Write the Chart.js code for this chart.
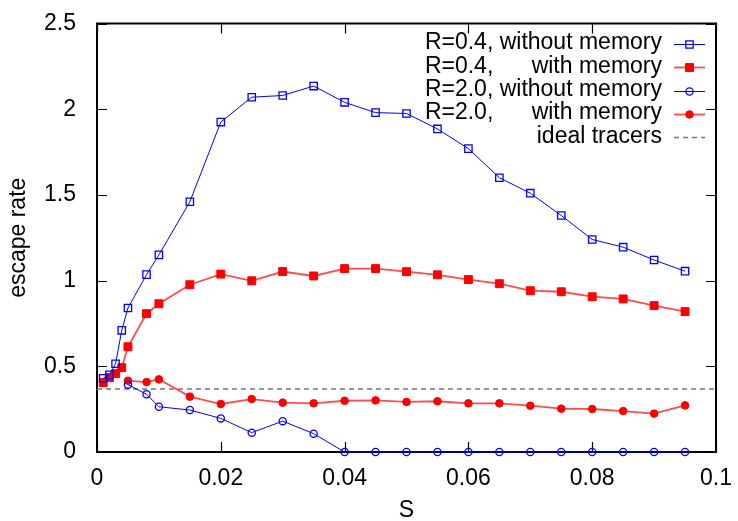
<!DOCTYPE html>
<html><head><meta charset="utf-8">
<script src="https://cdn.jsdelivr.net/npm/chart.js@4"></script>
<style>html,body{margin:0;padding:0;background:#fff}#wrap{width:738px;height:521px;position:relative}</style>
</head><body><div id="wrap"><canvas id="c"></canvas></div>
<script>
const S = [0.001,0.002,0.003,0.004,0.005,0.008,0.01,0.015,0.02,0.025,0.03,0.035,0.04,0.045,0.05,0.055,0.06,0.065,0.07,0.075,0.08,0.085,0.09,0.095];
const r04NoMem = [0.43,0.45,0.515,0.71,0.84,1.035,1.15,1.46,1.925,2.07,2.08,2.135,2.04,1.98,1.975,1.885,1.77,1.6,1.51,1.38,1.24,1.195,1.12,1.055];
const r04Mem = [0.405,0.434,0.457,0.492,0.614,0.807,0.865,0.976,1.038,0.999,1.053,1.027,1.07,1.07,1.052,1.034,1.006,0.982,0.941,0.935,0.906,0.893,0.854,0.819];
const r20NoMem = [null,null,null,null,0.393,0.337,0.264,0.245,0.196,0.113,0.18,0.107,0,0,0,0,0,0,0,0,0,0,0,0];
const r20Mem = [null,null,null,null,0.416,0.408,0.424,0.323,0.28,0.309,0.288,0.284,0.299,0.301,0.292,0.296,0.284,0.284,0.27,0.253,0.251,0.239,0.224,0.272];
const idealRate = 0.3679;
const idealS = [0, 0.1];
const xTickLabels = ['0','0.02','0.04','0.06','0.08','0.1'];
const yTickLabels = ['0','0.5','1','1.5','2','2.5'];
const seriesLabels = ['R=0.4, without memory','R=0.4,      with memory','R=2.0, without memory','R=2.0,      with memory','ideal tracers'];
const xTitle = 'S';
const yTitle = 'escape rate';

const FONT = "'Liberation Sans', Arial, Helvetica, sans-serif";
const BLUE = '#0000ff', RED = '#ff0000', REDLINE = '#ff4d4d';

function pts(vals){ return S.map((s,i)=>({x:s,y:vals[i]})).filter(p=>p.y!==null); }

const frameTicks = {
  id:'frameTicks',
  beforeDatasetsDraw(chart){
    const {ctx, chartArea:a, scales:{x,y}} = chart;
    ctx.save();
    ctx.strokeStyle = '#000';
    ctx.lineWidth = 1.2;
    ctx.beginPath();
    const L = 10;
    x.ticks.forEach(t=>{
      const px = Math.round(x.getPixelForValue(t.value))+0.5;
      ctx.moveTo(px,a.bottom); ctx.lineTo(px,a.bottom-L);
      ctx.moveTo(px,a.top); ctx.lineTo(px,a.top+L);
    });
    y.ticks.forEach(t=>{
      const py = Math.round(y.getPixelForValue(t.value))+0.5;
      ctx.moveTo(a.left,py); ctx.lineTo(a.left+L,py);
      ctx.moveTo(a.right,py); ctx.lineTo(a.right-L,py);
    });
    ctx.stroke();
    ctx.lineWidth = 2;
    ctx.strokeRect(a.left,a.top,a.right-a.left,a.bottom-a.top);
    ctx.restore();
  }
};

const keyPlugin = {
  id:'keyPlugin',
  afterDatasetsDraw(chart){
    const {ctx, chartArea:a} = chart;
    ctx.save();
    ctx.font = '23px ' + FONT;
    ctx.fillStyle = '#000';
    ctx.textBaseline = 'middle';
    const rightX = a.right - 54;
    const maxW = Math.max(...chart.data.datasets.map(d=>ctx.measureText(d.label).width));
    const leftX = rightX - maxW;
    chart.data.datasets.forEach((d,i)=>{
      const yy = a.top + 19.5 + i*23.3;
      const lab = d.label;
      const m = lab.match(/^(R=\d\.\d,)\s{2,}(.*)$/);
      if (m){
        ctx.textAlign='left'; ctx.fillText(m[1], leftX, yy);
        ctx.textAlign='right'; ctx.fillText(m[2], rightX, yy);
      } else {
        ctx.textAlign='right'; ctx.fillText(lab, rightX, yy);
      }
      const x0 = a.right - 42, x1 = a.right - 11, xm = (x0+x1)/2, ly = Math.round(yy)+1.5;
      ctx.save();
      ctx.strokeStyle = d.borderColor; ctx.lineWidth = d.borderWidth;
      ctx.setLineDash(d.borderDash || []);
      ctx.beginPath(); ctx.moveTo(x0,ly); ctx.lineTo(x1,ly); ctx.stroke();
      ctx.restore();
      if (d.pointRadius>0){
        ctx.save();
        ctx.lineWidth = d.pointBorderWidth;
        ctx.strokeStyle = d.pointBorderColor; ctx.fillStyle = d.pointBackgroundColor;
        ctx.beginPath();
        const r = d.pointRadius;
        if (d.pointStyle==='rect'){ const s=Math.SQRT1_2*r; ctx.rect(xm-s,ly-s,2*s,2*s); }
        else { ctx.arc(xm,ly,r,0,Math.PI*2); }
        ctx.fill(); ctx.stroke();
        ctx.restore();
      }
    });
    ctx.restore();
  }
};

new Chart(document.getElementById('c'), {
  type:'line',
  data:{ datasets:[
    {label:seriesLabels[0], data:pts(r04NoMem), borderColor:BLUE, borderWidth:1, pointStyle:'rect', pointRadius:5.2, pointBorderColor:BLUE, pointBackgroundColor:'rgba(0,0,0,0)', pointBorderWidth:1.3, clip:false},
    {label:seriesLabels[1], data:pts(r04Mem), borderColor:REDLINE, borderWidth:1.8, pointStyle:'rect', pointRadius:5.6, pointBorderColor:RED, pointBackgroundColor:RED, pointBorderWidth:1, clip:false},
    {label:seriesLabels[2], data:pts(r20NoMem), borderColor:BLUE, borderWidth:1, pointStyle:'circle', pointRadius:3.6, pointBorderColor:BLUE, pointBackgroundColor:'rgba(0,0,0,0)', pointBorderWidth:1.3, clip:false},
    {label:seriesLabels[3], data:pts(r20Mem), borderColor:REDLINE, borderWidth:1.8, pointStyle:'circle', pointRadius:3.8, pointBorderColor:RED, pointBackgroundColor:RED, pointBorderWidth:1, clip:false},
    {label:seriesLabels[4], data:idealS.map(s=>({x:s,y:idealRate})), borderColor:'#777', borderWidth:1.5, borderDash:[5,4], pointRadius:0, pointBorderWidth:0}
  ]},
  options:{
    responsive:true, maintainAspectRatio:false, animation:false,
    layout:{padding:{left:0,right:22,top:23.5,bottom:0}},
    plugins:{legend:{display:false}, tooltip:{enabled:false}},
    scales:{
      x:{type:'linear', min:0, max:0.1,
        afterFit:s=>{s.height=69; s.paddingLeft=0; s.paddingRight=0;},
        grid:{display:false, drawTicks:false}, border:{display:false},
        ticks:{stepSize:0.02, padding:13, color:'#000', font:{family:FONT,size:23},
          callback:(v,i)=>xTickLabels[i]},
        title:{display:true, text:xTitle, color:'#000', font:{family:FONT,size:23,lineHeight:1}, padding:{top:0,bottom:-1}}
      },
      y:{type:'linear', min:0, max:2.5,
        afterFit:s=>{s.width=97; s.paddingTop=0; s.paddingBottom=0;},
        grid:{display:false, drawTicks:false}, border:{display:false},
        ticks:{stepSize:0.5, padding:21, color:'#000', font:{family:FONT,size:23},
          callback:(v,i)=>yTickLabels[i]},
        title:{display:true, text:yTitle, color:'#000', font:{family:FONT,size:23,lineHeight:1}, padding:{top:7,bottom:0}}
      }
    }
  },
  plugins:[frameTicks, keyPlugin]
});
</script></body></html>
